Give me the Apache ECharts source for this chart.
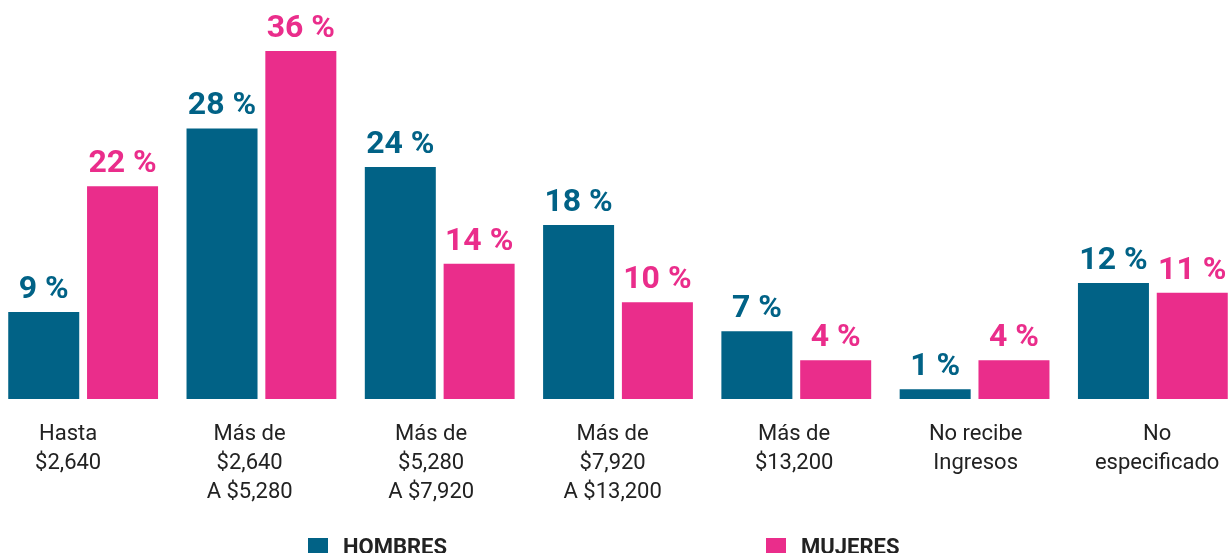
<!DOCTYPE html>
<html>
<head>
<meta charset="utf-8">
<script src="https://cdn.jsdelivr.net/npm/echarts@6/dist/echarts.min.js"></script>
<style>
  html, body { margin: 0; padding: 0; background: #fff; }
  #chart { width: 1229px; height: 553px; }
</style>
</head>
<body>
<div id="chart"></div>
<script>
const categories = [
  'Hasta\n$2,640',
  'Más de\n$2,640\nA $5,280',
  'Más de\n$5,280\nA $7,920',
  'Más de\n$7,920\nA $13,200',
  'Más de\n$13,200',
  'No recibe\nIngresos',
  'No\nespecificado'
]
const hombres = [9, 28, 24, 18, 7, 1, 12]
const mujeres = [22, 36, 14, 10, 4, 4, 11]

const BLUE = '#016286'
const PINK = '#EA2D8B'
const FONT = 'Roboto'

let myChart = echarts.init(document.getElementById('chart'))

function barLabel(color) {
  return {
    show: true,
    position: 'top',
    distance: 6,
    formatter: '{c} %',
    color: color,
    fontFamily: FONT,
    fontWeight: 'bold',
    fontSize: 32,
  }
}

function legendBox(left, name) {
  return {
    left: left,
    top: 532,
    icon: 'rect',
    itemWidth: 20,
    itemHeight: 20,
    data: [name],
    textStyle: {
      color: '#222',
      fontFamily: FONT,
      fontWeight: 'bold',
      fontSize: 22,
      padding: [0, 0, 0, 10],
    },
  }
}

let option = {
  animation: false,
  legend: [legendBox(303, 'HOMBRES'), legendBox(761, 'MUJERES')],
  grid: [
    // bars
    { left: -6, right: -13, top: 12.4, bottom: 154, outerBoundsMode: 'none' },
    // category labels sit on a slightly wider band than the bars
    { left: -22.6, right: -18.9, top: 12.4, bottom: 154, outerBoundsMode: 'none' },
  ],
  xAxis: [
    {
      type: 'category',
      gridIndex: 0,
      data: categories,
      axisLine: { show: false },
      axisTick: { show: false },
      axisLabel: { show: false },
    },
    {
      type: 'category',
      gridIndex: 1,
      data: categories,
      axisLine: { show: false },
      axisTick: { show: false },
      axisLabel: {
        color: '#222',
        fontFamily: FONT,
        fontSize: 22,
        lineHeight: 29,
        margin: 21,
        interval: 0,
      },
    },
  ],
  yAxis: [
    { type: 'value', gridIndex: 0, min: 0, max: 40, show: false, splitLine: { show: false } },
    { type: 'value', gridIndex: 1, min: 0, max: 40, show: false, splitLine: { show: false } },
  ],
  series: [
    {
      name: 'HOMBRES',
      type: 'bar',
      barWidth: 71,
      barGap: '11%',
      itemStyle: { color: BLUE },
      label: barLabel(BLUE),
      data: hombres,
    },
    {
      name: 'MUJERES',
      type: 'bar',
      barWidth: 71,
      barGap: '11%',
      itemStyle: { color: PINK },
      label: barLabel(PINK),
      data: mujeres,
    },
  ],
}
myChart.setOption(option, true)
</script>
</body>
</html>
